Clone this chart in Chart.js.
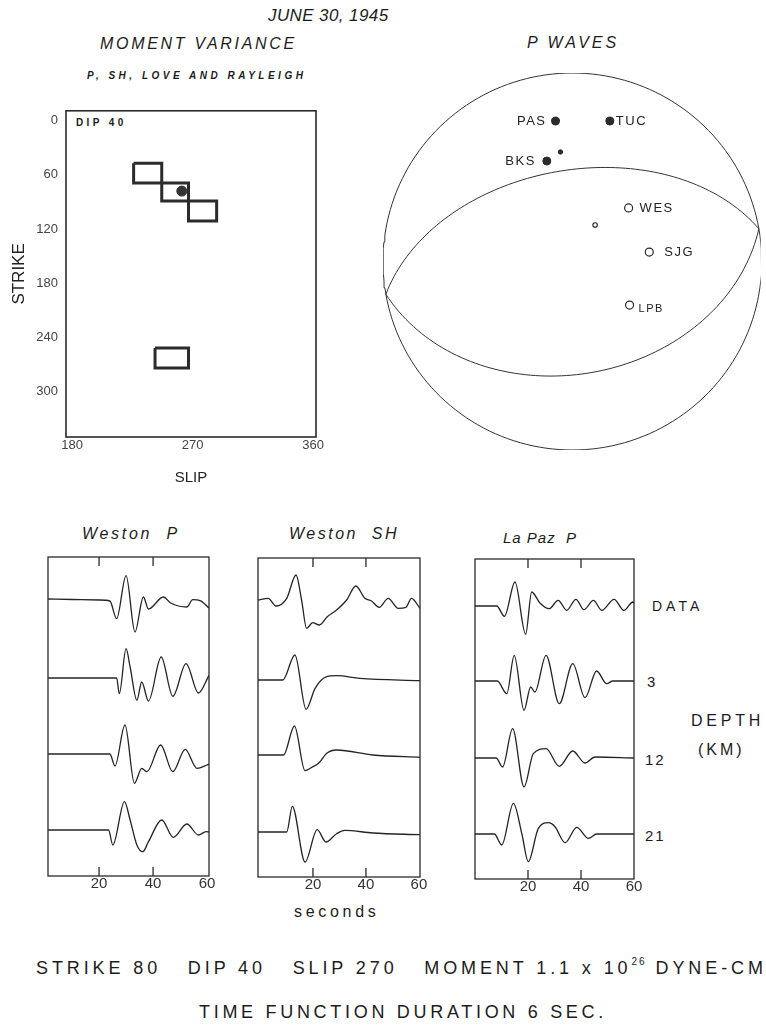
<!DOCTYPE html>
<html><head><meta charset="utf-8">
<script src="https://cdn.jsdelivr.net/npm/chart.js@4.4.1/dist/chart.umd.min.js"></script>
<style>
html,body{margin:0;padding:0;background:#fff;}
body{width:766px;height:1029px;position:relative;overflow:hidden;font-family:"Liberation Sans",Arial,Helvetica,sans-serif;color:#1c1c1c;}
.t{position:absolute;white-space:nowrap;line-height:1;}
.i{font-style:italic;}
canvas{position:absolute;}
sup{font-size:10px;position:relative;top:-2px;vertical-align:top;letter-spacing:2px;}
</style></head><body>

<div class="t i" style="left:268px;top:7px;font-size:17px;letter-spacing:0.4px;">JUNE 30, 1945</div>
<div class="t i" style="left:100px;top:36px;font-size:16px;letter-spacing:2.7px;">MOMENT VARIANCE</div>
<div class="t i" style="left:87px;top:71px;font-size:10px;font-weight:bold;letter-spacing:3.5px;">P, SH, LOVE AND RAYLEIGH</div>
<div class="t i" style="left:527px;top:35px;font-size:16px;letter-spacing:3px;">P WAVES</div>
<div class="t" style="left:76px;top:118px;font-size:10px;font-weight:bold;letter-spacing:3.4px;">DIP 40</div>

<div class="t i" style="left:82px;top:526px;font-size:16px;letter-spacing:2.7px;">Weston&nbsp;&nbsp;P</div>
<div class="t i" style="left:289px;top:526px;font-size:16px;letter-spacing:2.5px;">Weston&nbsp;&nbsp;SH</div>
<div class="t i" style="left:503px;top:530px;font-size:15px;letter-spacing:1px;">La Paz&nbsp;&nbsp;P</div>

<div class="t" style="left:652px;top:599px;font-size:14px;letter-spacing:4px;">DATA</div>
<div class="t" style="left:647px;top:674px;font-size:15px;">3</div>
<div class="t" style="left:645px;top:752px;font-size:15px;letter-spacing:2px;">12</div>
<div class="t" style="left:645px;top:828px;font-size:15px;letter-spacing:2px;">21</div>
<div class="t" style="left:691px;top:713px;font-size:16px;letter-spacing:3.8px;">DEPTH</div>
<div class="t" style="left:698px;top:742px;font-size:16px;letter-spacing:3px;">(KM)</div>
<div class="t" style="left:294px;top:904px;font-size:16px;letter-spacing:3.7px;">seconds</div>

<div class="t" style="left:36px;top:959px;font-size:18px;letter-spacing:3.9px;">STRIKE 80&nbsp;&nbsp;&nbsp;DIP 40&nbsp;&nbsp;&nbsp;SLIP 270&nbsp;&nbsp;&nbsp;MOMENT 1.1 x 10<sup>26</sup> DYNE-CM</div>
<div class="t" style="left:199px;top:1003px;font-size:18px;letter-spacing:3.7px;">TIME FUNCTION DURATION 6 SEC.</div>

<script>
// ---------------- DATA ----------------
// Moment variance panel (slip vs strike, dip 40)
const strikeTicks = [0, 60, 120, 180, 240, 300];
const slipTicks = [180, 270, 360];
const boxSlipFrom   = [226, 247, 267, 242];
const boxSlipTo     = [247, 267, 288, 267];
const boxStrikeFrom = [47, 69, 89, 252];
const boxStrikeTo   = [69, 89, 111, 274];
const bestSlip   = [262];
const bestStrike = [78];

// P-wave first motion focal sphere (equal-area, lower hemisphere)
const planeStrike = [80, 260];
const planeDip    = [40, 50];
const stationNames    = ['PAS', 'TUC', 'BKS', '', 'WES', '', 'SJG', 'LPB'];
const stationX        = [-0.089, 0.198, -0.135, -0.063, 0.297, 0.120, 0.406, 0.302];
const stationY        = [0.745, 0.745, 0.533, 0.581, 0.284, 0.194, 0.050, -0.231];
const stationPolarity = ['C', 'C', 'C', 'C', 'D', 'D', 'D', 'D'];

// Seismograms: [time (s), amplitude]
const seisTickLabels = [20, 40, 60];
const seisTickMarks  = [20, 40];
const traceNames = ['DATA', '3', '12', '21'];

const westonP_DATA = [[1.1,0],[10,-0.5],[20,-1],[24,-2],[26.5,-19.7],[30,23.3],[33.3,-33],[36.4,2],[38.3,-10],[43.8,2],[46.5,-4],[52.5,-8],[54.7,-0.7],[57.4,-1.7],[60.7,-9]];
const westonP_3    = [[1.1,0],[26.5,0],[27.5,-15.7],[30,29.3],[31.5,11],[34,-22.3],[35.8,-4],[38.3,-23],[43,21],[47.3,-18.3],[52.2,14.3],[56.8,-15],[60.7,2.7]];
const westonP_12   = [[1.1,0],[24,0],[25.9,-12],[29.6,29],[33.1,-29.3],[35.8,-14.3],[37.7,-17.7],[42.8,9],[47.3,-17.7],[51.9,4.7],[56.2,-14.3],[59.9,-11],[60.7,-10]];
const westonP_21   = [[1.1,0],[23.5,0],[25.1,-15],[29.4,28.3],[31.5,10],[34,-15],[36.2,-21.7],[38.3,-11.7],[43.2,10],[47.5,-7.3],[52.5,6],[56.8,-5],[59.6,-1.7],[60.7,-2]];

const westonSH_DATA = [[-0.75,0],[3.1,1.7],[6,-6],[10.1,1.7],[13.6,25],[15.7,0],[17.6,-28.3],[19.9,-22.7],[22.4,-25],[25.4,-16.7],[28.9,-10],[32.7,0],[36.2,14],[39.6,1.7],[42,-0.7],[45,-7.3],[48.4,1.7],[52.2,-8.3],[55.1,-7.3],[57.2,1.7],[60.4,-8.3]];
const westonSH_3    = [[-0.75,0],[8.6,0],[13.2,25],[17.4,-29.3],[20.8,-8.3],[25.2,3.3],[28.9,4.3],[37.7,1.7],[60.4,-0.7]];
const westonSH_12   = [[-0.75,0],[8.9,0],[13,29],[17,-15.7],[19.6,-12.3],[22.1,-8.3],[25.2,1.7],[28.9,5],[42.6,0],[60.4,-2.3]];
const westonSH_21   = [[-0.75,0],[10.1,0],[12.2,25.7],[17,-30],[21.6,2.3],[24.9,-10],[28.9,-1.7],[32,1.7],[42.6,-1],[60.4,-2.7]];

const laPazP_DATA = [[0,0],[8.2,0],[11.1,-10.3],[15.1,24],[19.1,-28.3],[21.4,14],[24.5,3],[28,-2.7],[31.4,5.7],[34.6,-4.3],[38.1,6.7],[41.1,-3.7],[44.7,5.7],[47.8,-4.3],[52.5,6.7],[56.2,-4.3],[59.6,4],[60,3]];
const laPazP_3    = [[0,0],[8.4,0],[12,-12.7],[14.8,25.7],[18.5,-29.3],[21,-6],[22.6,-11],[26.8,25.7],[31.8,-22.7],[36.9,17.3],[41.5,-16.7],[45.9,10],[49.7,-2.7],[52,0],[60,0]];
const laPazP_12   = [[0,0],[8,0],[10.4,-9],[14.2,29.3],[18.5,-29],[22,4.3],[26.8,9.3],[31.8,-8.3],[36.9,7],[41.5,-5],[45.3,1],[60,0]];
const laPazP_21   = [[0,0],[7.3,0],[10.1,-11],[14.5,30.7],[17.7,0],[20.1,-27.7],[23.9,5.7],[27.7,11.3],[30.2,7.3],[34,-8.7],[38.4,6.7],[42.8,-4.3],[45.9,0],[60,0]];

// ---------------- SETUP ----------------
Chart.defaults.font.family = "'Liberation Sans', Arial, Helvetica, sans-serif";
Chart.defaults.color = '#2a2a2a';
Chart.defaults.animation = false;
Chart.defaults.plugins.legend.display = false;
Chart.defaults.plugins.tooltip.enabled = false;

const INK = '#242424';

function makeCanvas(left, top, w, h) {
  const c = document.createElement('canvas');
  c.width = w; c.height = h;
  c.style.left = left + 'px'; c.style.top = top + 'px';
  c.style.width = w + 'px'; c.style.height = h + 'px';
  document.body.appendChild(c);
  return c;
}

// draws the plot frame around the chart area
function makeFramePlugin(lineWidth) {
  return {
    id: 'frame',
    afterDraw(chart) {
      const ctx = chart.ctx, a = chart.chartArea;
      ctx.save();
      ctx.strokeStyle = '#2a2a2a';
      ctx.lineWidth = lineWidth;
      ctx.strokeRect(a.left, a.top, a.right - a.left, a.bottom - a.top);
      ctx.restore();
    }
  };
}

// ---------------- MOMENT VARIANCE ----------------
(function () {
  const boxSets = boxSlipFrom.map((_, i) => ({
    data: [
      {x: boxSlipFrom[i], y: boxStrikeFrom[i]},
      {x: boxSlipTo[i],   y: boxStrikeFrom[i]},
      {x: boxSlipTo[i],   y: boxStrikeTo[i]},
      {x: boxSlipFrom[i], y: boxStrikeTo[i]},
      {x: boxSlipFrom[i], y: boxStrikeFrom[i]}
    ],
    showLine: true, borderColor: '#2b2b2b', borderWidth: 3, pointRadius: 0,
    tension: 0, fill: false, borderJoinStyle: 'miter'
  }));
  const best = {
    data: bestSlip.map((s, i) => ({x: s, y: bestStrike[i]})),
    pointRadius: 5, pointBackgroundColor: '#333', pointBorderColor: '#333', showLine: false
  };
  const cv = makeCanvas(0, 95, 345, 400);
  new Chart(cv, {
    type: 'scatter',
    data: {datasets: [...boxSets, best]},
    options: {
      responsive: false,
      layout: {padding: {top: 12, right: 29, left: 0, bottom: 0}},
      scales: {
        x: {
          type: 'linear', min: 175.5, max: 362.2,
          grid: {display: false, drawTicks: false}, border: {display: false},
          afterBuildTicks: s => { s.ticks = slipTicks.map(v => ({value: v})); },
          afterFit: s => { s.height = 58; },
          ticks: {font: {size: 13}, color: '#444', padding: 1, maxRotation: 0, autoSkip: false},
          title: {display: true, text: 'SLIP', font: {size: 15}, color: '#222', padding: {top: 0, bottom: 8}}
        },
        y: {
          type: 'linear', reverse: true, min: -11, max: 350.5,
          grid: {display: false, drawTicks: false}, border: {display: false},
          afterBuildTicks: s => { s.ticks = strikeTicks.map(v => ({value: v})); },
          afterFit: s => { s.width = 66; },
          ticks: {font: {size: 13}, color: '#444', padding: 8, autoSkip: false},
          title: {display: true, text: 'STRIKE', font: {size: 17}, color: '#222', padding: {top: 9, bottom: 0}}
        }
      }
    },
    plugins: [makeFramePlugin(1.6)]
  });
})();

// ---------------- FOCAL SPHERE ----------------
(function () {
  const D = Math.PI / 180;
  // lower-hemisphere equal-area projection, unit primitive
  function proj(az, plunge) {
    const r = Math.SQRT2 * Math.sin((90 - plunge) / 2 * D);
    return {x: r * Math.sin(az * D), y: r * Math.cos(az * D)};
  }
  const primitive = [];
  for (let az = 0; az <= 360; az += 2) primitive.push(proj(az, 0));
  const planeSets = planeStrike.map((phi, i) => {
    const dip = planeDip[i], pts = [];
    const s = [Math.cos(phi * D), Math.sin(phi * D), 0];
    const d = [Math.cos(dip * D) * Math.cos((phi + 90) * D), Math.cos(dip * D) * Math.sin((phi + 90) * D), Math.sin(dip * D)];
    for (let t = 0; t <= 180; t += 2) {
      const c = Math.cos(t * D), sn = Math.sin(t * D);
      const v = [c * s[0] + sn * d[0], c * s[1] + sn * d[1], c * s[2] + sn * d[2]];
      const plunge = Math.asin(Math.max(-1, Math.min(1, v[2]))) / D;
      const az = Math.atan2(v[1], v[0]) / D;
      pts.push(proj(az, plunge));
    }
    return {data: pts, showLine: true, borderColor: '#333', borderWidth: 1, pointRadius: 0, tension: 0};
  });
  const idxC = stationNames.map((_, i) => i).filter(i => stationPolarity[i] === 'C');
  const idxD = stationNames.map((_, i) => i).filter(i => stationPolarity[i] === 'D');
  const comp = {
    data: idxC.map(i => ({x: stationX[i], y: stationY[i]})),
    pointRadius: idxC.map(i => stationNames[i] ? 4 : 2.2),
    pointBackgroundColor: '#2a2a2a', pointBorderColor: '#2a2a2a', showLine: false
  };
  const dil = {
    data: idxD.map(i => ({x: stationX[i], y: stationY[i]})),
    pointRadius: idxD.map(i => stationNames[i] ? 4 : 2.2),
    pointBackgroundColor: '#fff', pointBorderColor: '#2a2a2a', pointBorderWidth: 1.2, showLine: false
  };
  const labelStyle = {
    PAS: {align: 'right', dx: -9, dy: 0, size: 13},
    TUC: {align: 'left', dx: 6, dy: 0, size: 13},
    BKS: {align: 'right', dx: -11, dy: 0, size: 13},
    WES: {align: 'left', dx: 11, dy: 0, size: 13},
    SJG: {align: 'left', dx: 15, dy: 0, size: 13},
    LPB: {align: 'left', dx: 9, dy: 4, size: 11}
  };
  const labelPlugin = {
    id: 'stlabels',
    afterDatasetsDraw(chart) {
      const ctx = chart.ctx, xs = chart.scales.x, ys = chart.scales.y;
      ctx.save();
      ctx.fillStyle = '#222';
      ctx.textBaseline = 'middle';
      stationNames.forEach((n, i) => {
        if (!n) return;
        const st = labelStyle[n];
        ctx.font = st.size + "px 'Liberation Sans', Arial, sans-serif";
        try { ctx.letterSpacing = '1.5px'; } catch (e) {}
        ctx.textAlign = st.align;
        ctx.fillText(n, xs.getPixelForValue(stationX[i]) + st.dx, ys.getPixelForValue(stationY[i]) + st.dy);
      });
      ctx.restore();
    }
  };
  const cv = makeCanvas(370, 60, 396, 400);
  new Chart(cv, {
    type: 'scatter',
    data: {datasets: [
      {data: primitive, showLine: true, borderColor: '#333', borderWidth: 1, pointRadius: 0, tension: 0},
      ...planeSets, comp, dil
    ]},
    options: {
      responsive: false,
      layout: {padding: {left: 13, right: 0, top: 13, bottom: 10}},
      scales: {
        x: {type: 'linear', display: false, min: -1, max: 0.995},
        y: {type: 'linear', display: false, min: -1, max: 1}
      }
    },
    plugins: [labelPlugin]
  });
})();

// ---------------- SEISMOGRAMS ----------------
const panels = [
  {frame: [48, 557, 209, 876], xMin: 1.1, xMax: 60.7, offsets: [42, 121, 197, 273],
   traces: [westonP_DATA, westonP_3, westonP_12, westonP_21]},
  {frame: [258, 558, 420, 877], xMin: -0.75, xMax: 60.4, offsets: [42, 122, 197, 274],
   traces: [westonSH_DATA, westonSH_3, westonSH_12, westonSH_21]},
  {frame: [475, 559, 634, 879], xMin: 0, xMax: 60, offsets: [47, 122, 199, 275],
   traces: [laPazP_DATA, laPazP_3, laPazP_12, laPazP_21]}
];
const TICK_LEN = 9; // inward tick length in amplitude units (1 unit = 1 px)

panels.forEach(p => {
  const [l, t, r, b] = p.frame;
  const w = r - l, h = b - t;
  const cv = makeCanvas(l - 20, t - 10, w + 40, h + 40);
  const sets = p.traces.map((tr, k) => ({
    label: traceNames[k],
    data: tr.map(([tt, a]) => ({x: tt, y: a - p.offsets[k]})),
    showLine: true, borderColor: INK, borderWidth: 1.3, pointRadius: 0,
    cubicInterpolationMode: 'monotone', fill: false
  }));
  // inward tick marks on top and bottom edges, placed through the x scale
  const tickSets = [];
  seisTickMarks.forEach(v => {
    tickSets.push({data: [{x: v, y: 0}, {x: v, y: -TICK_LEN}], showLine: true,
      borderColor: '#2a2a2a', borderWidth: 1.3, pointRadius: 0, tension: 0});
    tickSets.push({data: [{x: v, y: -h}, {x: v, y: -h + TICK_LEN}], showLine: true,
      borderColor: '#2a2a2a', borderWidth: 1.3, pointRadius: 0, tension: 0});
  });
  new Chart(cv, {
    type: 'scatter',
    data: {datasets: [...sets, ...tickSets]},
    options: {
      responsive: false,
      layout: {padding: {left: 20, right: 20, top: 10, bottom: 0}},
      scales: {
        x: {
          type: 'linear', min: p.xMin, max: p.xMax,
          grid: {display: false, drawTicks: false}, border: {display: false},
          afterBuildTicks: s => { s.ticks = seisTickLabels.map(v => ({value: v})); },
          afterFit: s => { s.height = 30; },
          ticks: {font: {size: 15}, color: '#333', padding: -1, maxRotation: 0, autoSkip: false}
        },
        y: {type: 'linear', display: false, min: -h, max: 0}
      }
    },
    plugins: [makeFramePlugin(1.3)]
  });
});
</script>
</body></html>
